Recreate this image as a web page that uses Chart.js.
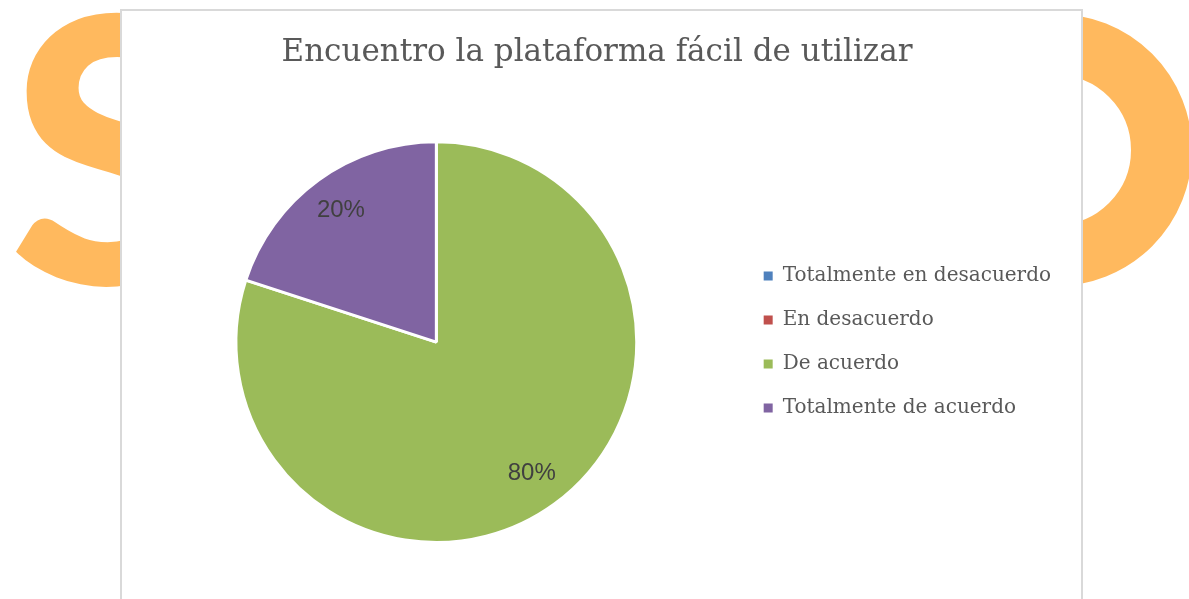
<!DOCTYPE html>
<html>
<head>
<meta charset="utf-8">
<script src="https://cdn.jsdelivr.net/npm/chart.js@4/dist/chart.umd.min.js"></script>
<style>
  html, body { margin: 0; padding: 0; background: #fff; overflow: hidden; }
  body { width: 1189px; height: 599px; position: relative; }
  .deco-s {
    position: absolute; left: 9px; top: -44px;
    font: 900 370px Lato, "Open Sans", sans-serif; color: #ffb95e; line-height: 1;
  }
  .deco-o {
    position: absolute; left: 920px; top: 14px; width: 150px; height: 150px;
    border: 61px solid #ffb95e; border-radius: 50%;
  }
  .box {
    position: absolute; left: 120px; top: 9px; width: 959px; height: 600px;
    border: 2px solid #d9d9d9; border-bottom: none; background: #fff;
  }
</style>
</head>
<body>
<div class="deco-s">S</div>
<div class="deco-o"></div>
<div class="box"><canvas id="pieChart" width="959" height="588"></canvas></div>
<script>
const chartTitle = 'Encuentro la plataforma fácil de utilizar';
const categories = ['Totalmente en desacuerdo', 'En desacuerdo', 'De acuerdo', 'Totalmente de acuerdo'];
const shares = [0, 0, 80, 20];
const sliceColors = ['#4f81bd', '#c0504d', '#9bbb59', '#8064a2'];

// percentage labels sitting inside each slice, like the spreadsheet ones
const sliceLabels = {
  id: 'sliceLabels',
  afterDatasetsDraw(chart) {
    const { ctx } = chart;
    const meta = chart.getDatasetMeta(0);
    const data = chart.data.datasets[0].data;
    const total = data.reduce((s, v) => s + v, 0);
    ctx.save();
    ctx.font = '24px "Liberation Sans", Arial, sans-serif';
    ctx.fillStyle = '#404040';
    ctx.textAlign = 'center';
    ctx.textBaseline = 'middle';
    meta.data.forEach((arc, i) => {
      if (!data[i]) return;
      const p = arc.getProps(['x', 'y', 'startAngle', 'endAngle', 'outerRadius'], true);
      const mid = (p.startAngle + p.endAngle) / 2;
      const r = p.outerRadius * 0.81;
      ctx.fillText(Math.round(data[i] / total * 100) + '%', p.x + Math.cos(mid) * r, p.y + Math.sin(mid) * r);
    });
    ctx.restore();
  }
};

new Chart(document.getElementById('pieChart').getContext('2d'), {
  type: 'pie',
  data: {
    labels: categories,
    datasets: [{
      data: shares,
      backgroundColor: sliceColors,
      borderColor: '#ffffff',
      borderWidth: 3,
    }],
  },
  options: {
    responsive: false,
    animation: false,
    layout: { padding: { left: 11, right: 20, bottom: 55 } },
    plugins: {
      title: {
        display: true,
        text: chartTitle,
        color: '#595959',
        font: { family: '"DejaVu Serif", serif', size: 31, weight: 'normal' },
        padding: { top: 23, bottom: 69 },
      },
      legend: {
        position: 'right',
        fullSize: false,
        labels: {
          color: '#595959',
          font: { family: '"DejaVu Serif", serif', size: 20 },
          boxWidth: 9,
          boxHeight: 9,
          padding: 24,
          // solid squares, without the white slice border
          generateLabels: chart => Chart.overrides.doughnut.plugins.legend.labels.generateLabels(chart)
            .map(item => ({ ...item, lineWidth: 0 })),
        },
      },
      tooltip: { enabled: false },
    },
  },
  plugins: [sliceLabels],
});
</script>
</body>
</html>
